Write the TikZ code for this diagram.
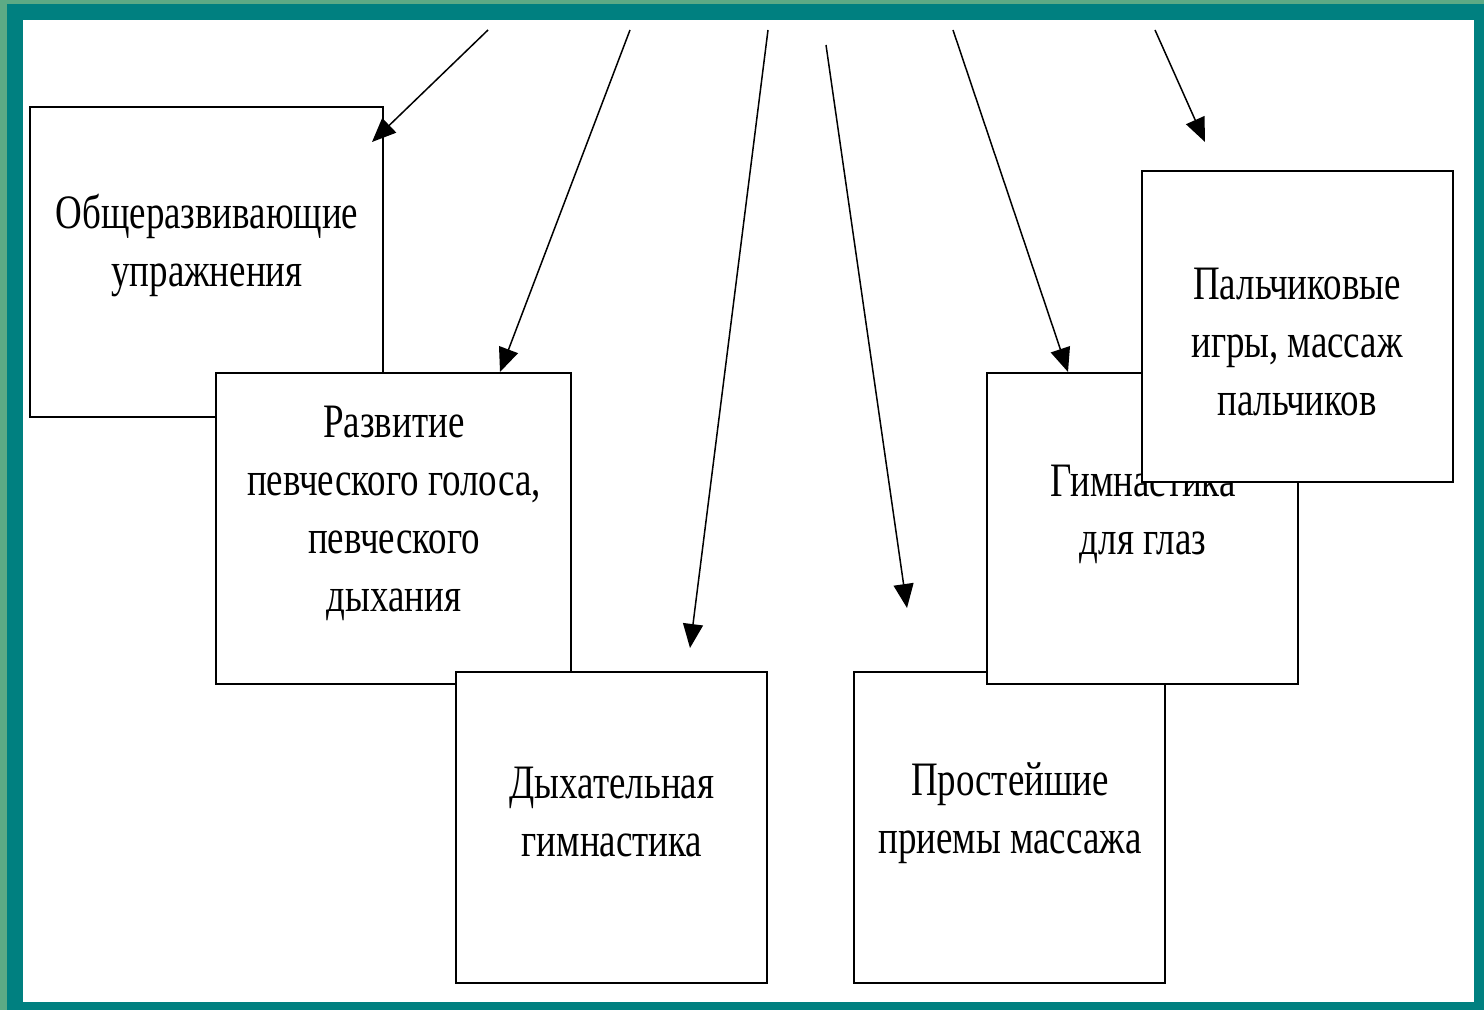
\documentclass[tikz,border=0pt]{standalone}
\usepackage{fontspec}
\setmainfont{Liberation Serif}[FakeStretch=0.77]
\usetikzlibrary{arrows.meta}
\definecolor{outergreen}{HTML}{5DAA85}
\definecolor{frameteal}{HTML}{008080}
\tikzset{
  box/.style={draw=black, line width=1.3pt, fill=white},
  lbl/.style={align=center, inner sep=0pt, font=\fontsize{24}{29}\selectfont},
  arr/.style={line width=0.75pt, -{Triangle[length=12pt, width=10pt]}}
}
\begin{document}
\begin{tikzpicture}[x=0.5pt, y=-0.5pt]
  \useasboundingbox (0,0) rectangle (1484,1010);
  \fill[outergreen] (0,0) rectangle (1484,1010);
  \fill[frameteal] (7,4) rectangle (1484,1010);
  \fill[white] (23,20) rectangle (1474,1002);

  \draw[box] (30,107) rectangle (383,417);
  \node[lbl] (t1) at (207,246) {Общеразвивающие\\упражнения};
  \draw[box] (216,373) rectangle (571,684);
  \node[lbl] (t2) at (394,513) {Развитие\\певческого голоса,\\певческого\\дыхания};
  \draw[box] (456,672) rectangle (767,983);
  \node[lbl] (t3) at (612,812) {Дыхательная\\гимнастика};
  \draw[box] (854,672) rectangle (1165,983);
  \node[lbl] (t4) at (1010,813) {Простейшие\\приемы массажа};
  \draw[box] (987,373) rectangle (1298,684);
  \node[lbl] (t5) at (1143,514) {Гимнастика\\для глаз};
  \draw[box] (1142,171) rectangle (1453,482);
  \node[lbl] (t6) at (1297,342) {Пальчиковые\\игры, массаж\\пальчиков};

  \coordinate (s1) at (488,30);  \coordinate (e1) at (372,142);
  \coordinate (s2) at (630,30);  \coordinate (e2) at (500,372);
  \coordinate (s3) at (768,30);  \coordinate (e3) at (690,648);
  \coordinate (s4) at (826,45);  \coordinate (e4) at (907,608);
  \coordinate (s5) at (953,30);  \coordinate (e5) at (1068,372);
  \coordinate (s6) at (1155,30); \coordinate (e6) at (1205,142);
  \draw[arr] (s1) -- (e1);
  \draw[arr] (s2) -- (e2);
  \draw[arr] (s3) -- (e3);
  \draw[arr] (s4) -- (e4);
  \draw[arr] (s5) -- (e5);
  \draw[arr] (s6) -- (e6);
\end{tikzpicture}
\end{document}
